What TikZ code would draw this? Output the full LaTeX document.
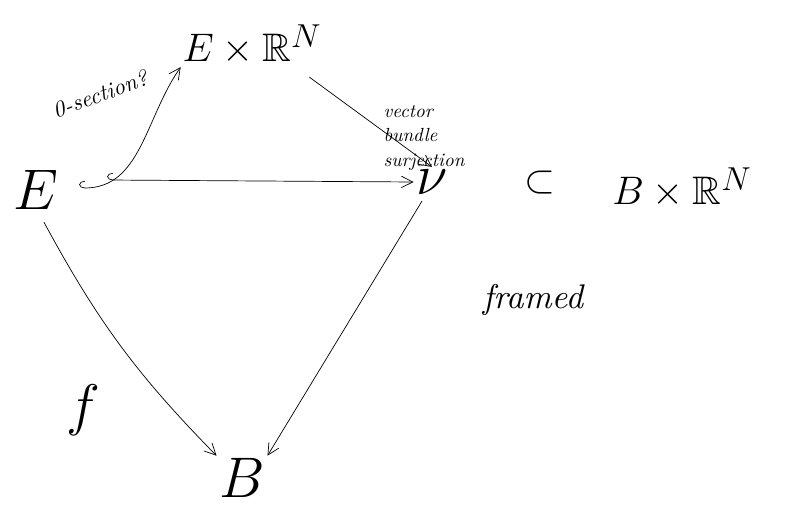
\documentclass[tikz,border=0pt]{standalone}
\usepackage{amsmath,amssymb}
\usepackage{tikz}
\usetikzlibrary{arrows.meta,positioning}
\tikzset{
  obj/.style  ={inner sep=1pt, font=\Huge, scale=1.6},
  big/.style  ={inner sep=1pt, font=\Huge, scale=2.3},
  arr/.style  ={-{Straight Barb[length=4mm,width=4mm]}, line width=0.7pt},
  harr/.style ={{Hooks[right,length=2mm,width=5mm]}-{Straight Barb[length=4mm,width=4mm]}, line width=0.7pt},
  note/.style ={align=left, font=\itshape, inner sep=1pt, scale=1.9},
}
\begin{document}
\begin{tikzpicture}[x=1pt,y=-1pt]
  \useasboundingbox (0,0) rectangle (792,518);
  % objects of the square
  \node[obj] (ER) at (252,45)  {$E\times\mathbb{R}^{N}$};
  \node[big] (E)  at (36,190)  {$E$};
  \node[big] (nu) at (432,182) {$\nu$};
  \node[obj] (sub) at (540,183) {$\subset$};
  \node[obj] (BR) at (682,188) {$B\times\mathbb{R}^{N}$};
  \node[big] (B)  at (242,478) {$B$};

  % maps
  \draw[harr] (E.east) ++(46,-10) coordinate (e0) -- (nu.west);
  \draw[harr] (E.east) ++(18,-2) coordinate (e1)
        to[out=0,in=-125] (ER.south west);
  \node[note, rotate=20, scale=1.2] (zs) at (100,94) {0-section?};
  \draw[arr] (ER.south east) ++(-14,10) coordinate (e2) -- (nu.north);
  \node[note] (vbs) at (424,138) {vector\\[1pt]bundle\\[1pt]surjection};
  \draw[arr] (E.south) ++(8,10) coordinate (e3) to[bend right=8] (B.north west);
  \node[big] (f) at (83,410) {$f$};
  \draw[arr] (nu.south) ++(-10,4) coordinate (e4) -- (B.north east);
  \node[note, scale=1.8] (fr) at (533,300) {framed};
\end{tikzpicture}
\end{document}
